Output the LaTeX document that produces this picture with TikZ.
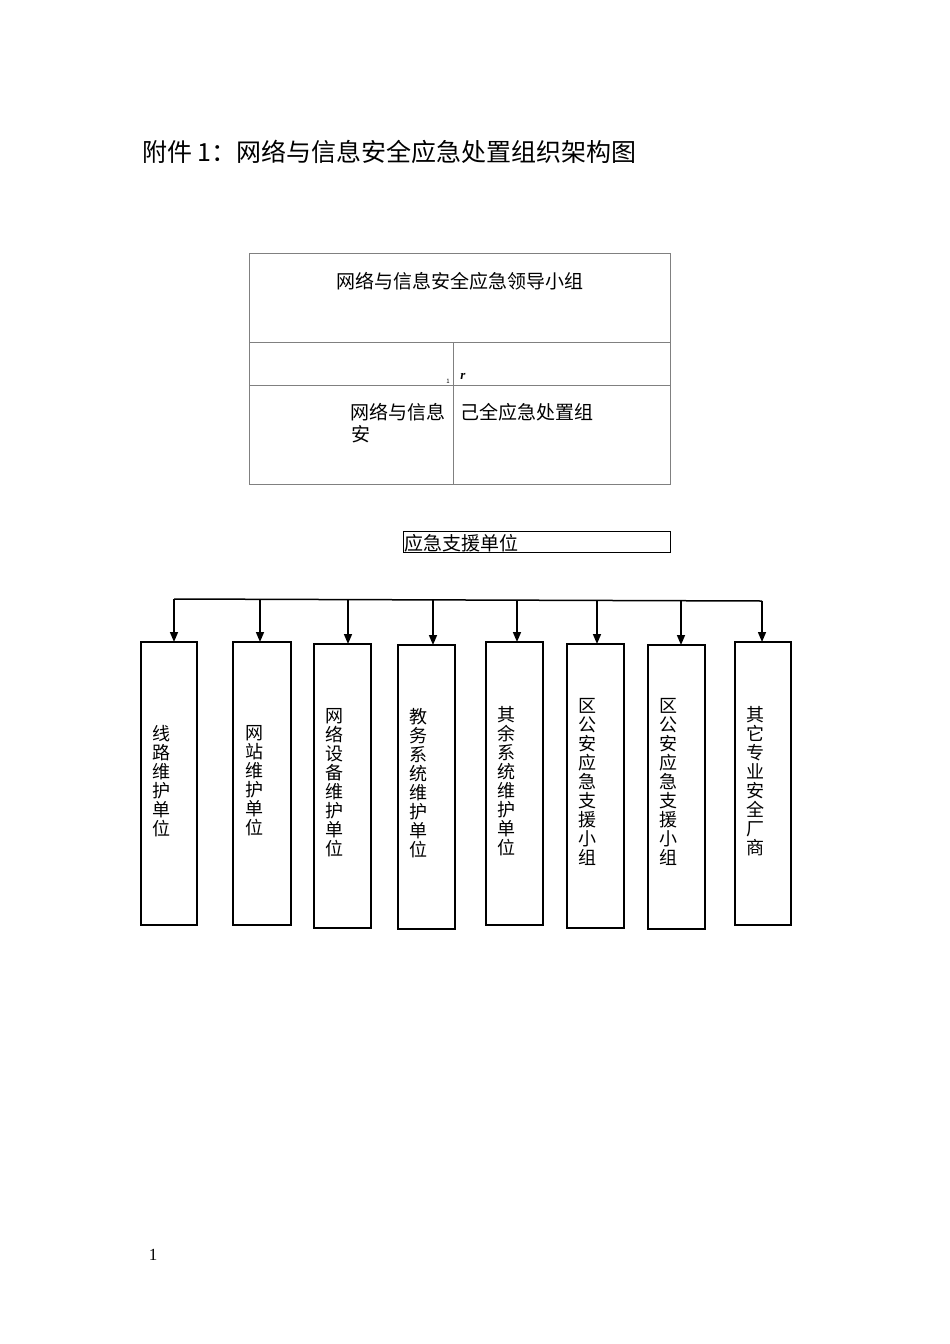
\documentclass[tikz,border=0pt]{standalone}
\usepackage{fontspec}
\setmainfont{Noto Sans CJK SC}
\newfontfamily\serifnum{Liberation Serif}
\usetikzlibrary{arrows.meta}
\tikzset{unit/.style={draw,line width=1.5pt},
 arr/.style={-{Triangle[length=10pt,width=8pt]},line width=1.5pt},
 cell/.style={draw=gray,line width=1pt},
 vt/.style={anchor=north,font=\fontsize{18pt}{19pt}\selectfont,align=center,inner sep=0pt}}
\begin{document}
\begin{tikzpicture}[x=1pt,y=-1pt]
\useasboundingbox (0,0) rectangle (950,1344);
\node[anchor=west,font=\fontsize{25pt}{28pt}\selectfont,inner sep=0pt] (title) at (142,152) {附件 1：网络与信息安全应急处置组织架构图};
% table
\draw[cell] (249,253) rectangle (670,484);
\draw[cell] (249,342) -- (670,342);
\draw[cell] (249,385) -- (670,385);
\draw[cell] (453,342) -- (453,484);
\node[font=\fontsize{19pt}{22pt}\selectfont] (lead) at (460,281) {网络与信息安全应急领导小组};
\node[font=\fontsize{6pt}{7pt}\selectfont,inner sep=0pt] (one) at (448,381) {1};
\node[font=\bfseries\itshape\fontsize{13pt}{15pt}\selectfont\serifnum,inner sep=0pt] (r) at (463,376) {r};
\node[anchor=east,font=\fontsize{19pt}{22pt}\selectfont,inner sep=0pt] (a1) at (446,412) {网络与信息};
\node[anchor=west,font=\fontsize{19pt}{22pt}\selectfont,inner sep=0pt] (a2) at (351,434) {安};
\node[anchor=west,font=\fontsize{19pt}{22pt}\selectfont,inner sep=0pt] (a3) at (460,412) {己全应急处置组};
\draw[line width=1pt] (403,531) rectangle (670,552);
\node[anchor=west,font=\fontsize{19pt}{22pt}\selectfont,inner sep=0pt] (sup) at (404,543) {应急支援单位};
% bus
\draw[line width=1.5pt] (174,599) -- (762,601);
\foreach \i/\x/\ya/\yb/\xa/\xb/\ty/\t in {
 1/174/642/925/141/197/725/线\\路\\维\\护\\单\\位,
 2/260/642/925/233/291/725/网\\站\\维\\护\\单\\位,
 3/348/644/928/314/371/708/网\\络\\设\\备\\维\\护\\单\\位,
 4/433/645/929/398/455/708/教\\务\\系\\统\\维\\护\\单\\位,
 5/517/642/925/486/543/706/其\\余\\系\\统\\维\\护\\单\\位,
 6/597/644/928/567/624/698/区\\公\\安\\应\\急\\支\\援\\小\\组,
 7/681/645/929/648/705/698/区\\公\\安\\应\\急\\支\\援\\小\\组,
 8/762/642/925/735/791/706/其\\它\\专\\业\\安\\全\\厂\\商}{
 \draw[unit] (\xa,\ya) rectangle (\xb,\yb);
 \coordinate (b\i) at (\x,\ya);
 \coordinate (t\i) at (\x,{599+(\x-174)*2/588});
 \draw[arr] (t\i) -- (b\i);
 \node[vt] (l\i) at ({(\xa+\xb)/2-8},\ty) {\t};
}
\node[font=\serifnum\fontsize{17pt}{19pt}\selectfont] (pg) at (153,1255) {1};
\end{tikzpicture}
\end{document}
